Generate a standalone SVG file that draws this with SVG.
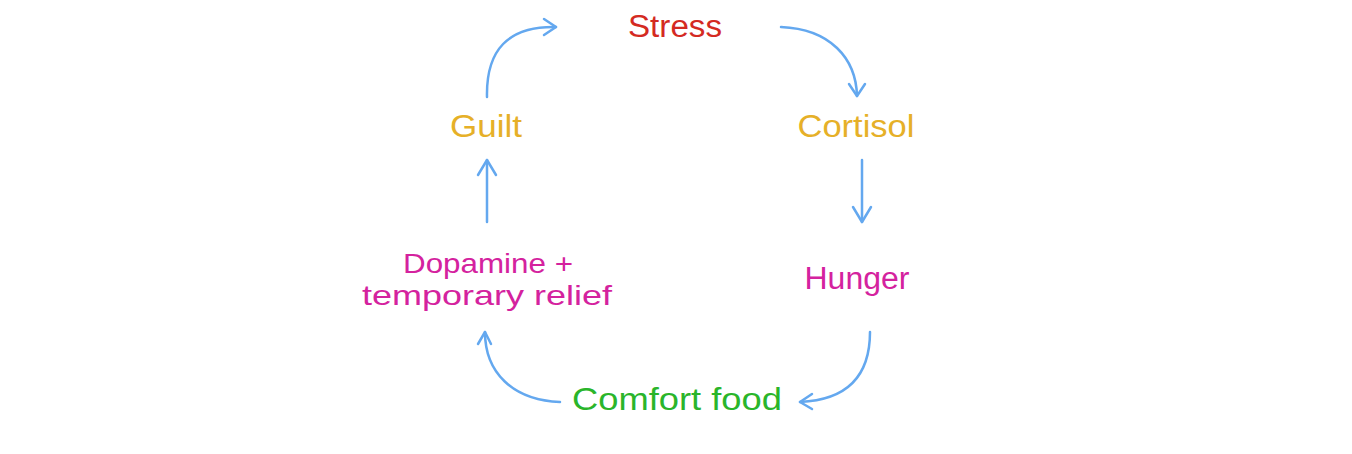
<svg xmlns="http://www.w3.org/2000/svg" width="1352" height="454" viewBox="0 0 1352 454">
<style>
text{font-family:"Liberation Sans","Noto Sans",sans-serif;font-size:31px;text-anchor:middle}
.s{font-size:28px}
.c{fill:none;stroke:#64a8ef;stroke-width:2.5;stroke-linecap:round;stroke-linejoin:round}
</style>
<rect width="1352" height="454" fill="#ffffff"/>
<g id="connectors" class="c">
<path d="M487,97 C486,50 508,26 556,27"/><path d="M544,19 L556,27 L544,35"/>
<path d="M781,27 C830,29 856,58 857,96"/><path d="M849,84 L857,96 L865,84"/>
<path d="M862,160 L862,222"/><path d="M853,207 L862,222 L871,207"/>
<path d="M870,332 C870,378 845,400 800,402"/><path d="M812,394 L800,402 L812,409"/>
<path d="M560,402 C512,400 485,372 485,332"/><path d="M478,344 L485,332 L491,344"/>
<path d="M487,222 L487,160"/><path d="M478,175 L487,160 L496,175"/>
</g>
<g id="stress"><text x="675" y="37" fill="#d42a22" textLength="94" lengthAdjust="spacingAndGlyphs">Stress</text></g>
<g id="cortisol"><text x="856" y="137" fill="#e6b028" textLength="117" lengthAdjust="spacingAndGlyphs">Cortisol</text></g>
<g id="hunger"><text x="857" y="289" fill="#d4229e" textLength="105" lengthAdjust="spacingAndGlyphs">Hunger</text></g>
<g id="comfort-food"><text x="677" y="410" fill="#2ab52a" textLength="210" lengthAdjust="spacingAndGlyphs">Comfort food</text></g>
<g id="dopamine"><text class="s" x="488" y="273" fill="#d4229e" textLength="170" lengthAdjust="spacingAndGlyphs">Dopamine +</text><text class="s" x="487" y="305" fill="#d4229e" textLength="250" lengthAdjust="spacingAndGlyphs">temporary relief</text></g>
<g id="guilt"><text x="486" y="137" fill="#e6b028" textLength="72" lengthAdjust="spacingAndGlyphs">Guilt</text></g>
</svg>
